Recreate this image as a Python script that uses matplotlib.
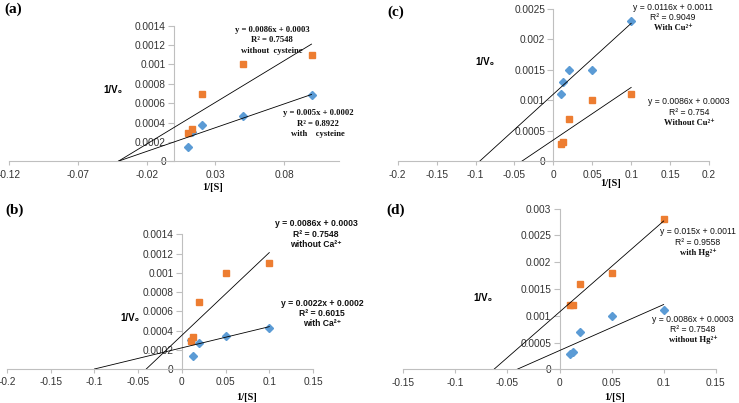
import matplotlib
matplotlib.use("Agg")
import matplotlib.pyplot as plt
from matplotlib.ticker import FuncFormatter
import numpy as np

W, H = 739, 403

BLUE = "#5B9BD5"
ORANGE = "#ED7D31"
AXIS_GRAY = "#BFBFBF"
SANS = ["Liberation Sans", "DejaVu Sans"]
SERIF = ["Liberation Serif", "DejaVu Serif"]

# substrate concentrations (1/[S]) shared by every panel
inv_s = [0.01, 0.013, 0.02, 0.05, 0.1]

# (a) cysteine
a_with = [0.00015, 0.0003, 0.00037, 0.00047, 0.00068]
a_without = [0.00029, 0.00033, 0.0007, 0.001, 0.0011]
# (b) Ca2+
b_with = [0.0003, 0.00014, 0.00027, 0.00034, 0.00043]
b_without = [0.00029, 0.00033, 0.0007, 0.001, 0.0011]
# (c) Cu2+
c_with = [0.0011, 0.0013, 0.0015, 0.0015, 0.0023]
c_without = [0.00028, 0.00032, 0.0007, 0.001, 0.0011]
# (d) Hg2+
d_with = [0.0012, 0.0012, 0.0016, 0.0018, 0.0028]
d_without = [0.00029, 0.00033, 0.0007, 0.001, 0.0011]

# trend lines (slope, intercept) as drawn in the picture
a_fit_with, a_fit_without = (0.0049, 0.0002), (0.0086, 0.00035)
b_fit_with, b_fit_without = (0.0022, 0.00022), (0.0086, 0.00035)
c_fit_with, c_fit_without = (0.0116, 0.0011), (0.0086, 0.00035)
d_fit_with, d_fit_without = (0.017, 0.00107), (0.0086, 0.00035)

a_xticks = [-0.12, -0.07, -0.02, 0.03, 0.08]
a_yticks = [0, 0.0002, 0.0004, 0.0006, 0.0008, 0.001, 0.0012, 0.0014]
b_xticks = [-0.2, -0.15, -0.1, -0.05, 0, 0.05, 0.1, 0.15]
b_yticks = a_yticks
c_xticks = [-0.2, -0.15, -0.1, -0.05, 0, 0.05, 0.1, 0.15, 0.2]
c_yticks = [0, 0.0005, 0.001, 0.0015, 0.002, 0.0025]
d_xticks = [-0.15, -0.1, -0.05, 0, 0.05, 0.1, 0.15]
d_yticks = [0, 0.0005, 0.001, 0.0015, 0.002, 0.0025, 0.003]


def fmt(v, _pos=None):
    return f"{round(v, 5):g}"


def make_axes(fig, left, right, top, bottom):
    return fig.add_axes([left / W, 1 - bottom / H, (right - left) / W, (bottom - top) / H])


def style(ax, xticks, yticks):
    ax.set_xlim(xticks[0], xticks[-1])
    ax.set_ylim(yticks[0], yticks[-1])
    ax.set_xticks(xticks)
    ax.set_yticks(yticks)
    ax.xaxis.set_major_formatter(FuncFormatter(fmt))
    ax.yaxis.set_major_formatter(FuncFormatter(fmt))
    ax.spines["top"].set_visible(False)
    ax.spines["right"].set_visible(False)
    ax.spines["left"].set_position(("data", 0))
    for s in ("left", "bottom"):
        ax.spines[s].set_color(AXIS_GRAY)
        ax.spines[s].set_linewidth(0.8)
    ax.tick_params(axis="both", colors=AXIS_GRAY, labelcolor="#333333",
                   labelsize=7.3, width=0.8)
    ax.tick_params(axis="y", length=4, pad=2)
    ax.tick_params(axis="x", length=3, pad=3)
    for lab in ax.get_xticklabels() + ax.get_yticklabels():
        lab.set_family(SANS)
    ax.patch.set_alpha(0)


def draw(ax, blue, orange, blue_fit, orange_fit):
    ax.plot(inv_s, blue, linestyle="none", marker="D", markersize=3.6,
            color=BLUE, zorder=2, clip_on=False)
    ax.plot(inv_s, orange, linestyle="none", marker="s", markersize=4.6,
            color=ORANGE, zorder=2, clip_on=False)
    for m, b in (blue_fit, orange_fit):
        xs = np.array([-b / m, inv_s[-1]])
        ax.plot(xs, m * xs + b, color="black", linewidth=0.6, zorder=3)


def note(fig, x, y, lines):
    # lines: list of (text, family, weight)
    for i, (txt, fam, wt) in enumerate(lines):
        fig.text(x / W, 1 - (y + i * 10.5) / H, txt, family=fam, weight=wt,
                 fontsize=6.2, ha="center", va="center", color="#111111")


fig = plt.figure(figsize=(W / 100, H / 100), dpi=100)

ax_a = make_axes(fig, 9.3, 339, 25.7, 161.3)
style(ax_a, a_xticks, a_yticks)
ax_a.set_xlim(-0.12, 0.12)
draw(ax_a, a_with, a_without, a_fit_with, a_fit_without)

ax_c = make_axes(fig, 397.7, 709, 8.7, 161.3)
style(ax_c, c_xticks, c_yticks)
draw(ax_c, c_with, c_without, c_fit_with, c_fit_without)

ax_b = make_axes(fig, 7, 313, 234.3, 369)
style(ax_b, b_xticks, b_yticks)
draw(ax_b, b_with, b_without, b_fit_with, b_fit_without)

ax_d = make_axes(fig, 403.3, 715.7, 208.7, 369.3)
style(ax_d, d_xticks, d_yticks)
draw(ax_d, d_without, d_with, d_fit_without, d_fit_with)

# panel letters
for txt, x, y in [("(a)", 13, 9), ("(c)", 396, 12), ("(b)", 15, 210), ("(d)", 396, 210)]:
    fig.text(x / W, 1 - y / H, txt, family=SERIF, weight="bold", fontsize=11,
             ha="center", va="center")

# axis titles
for x, y in [(113, 90), (485, 62), (130, 318), (483, 298)]:
    fig.text(x / W, 1 - y / H, "1/V₀", family=SANS, weight="bold", fontsize=7,
             ha="center", va="center")
for x, y in [(213, 188), (611, 184), (247, 398), (615, 397)]:
    fig.text(x / W, 1 - y / H, "1/[S]", family=SERIF, weight="bold", fontsize=7.5,
             ha="center", va="center")

# trend-line equations
note(fig, 272, 30, [("y = 0.0086x + 0.0003", SERIF, "bold"),
                    ("R² = 0.7548", SERIF, "bold"),
                    ("without  cysteine", SERIF, "bold")])
note(fig, 318, 113, [("y = 0.005x + 0.0002", SERIF, "bold"),
                     ("R² = 0.8922", SERIF, "bold"),
                     ("with    cysteine", SERIF, "bold")])
note(fig, 673, 7, [("y = 0.0116x + 0.0011", SANS, "normal"),
                   ("R² = 0.9049", SANS, "normal"),
                   ("With Cu²⁺", SERIF, "bold")])
note(fig, 689, 102, [("y = 0.0086x + 0.0003", SANS, "normal"),
                     ("R² = 0.754", SANS, "normal"),
                     ("Without Cu²⁺", SERIF, "bold")])
note(fig, 316, 224, [("y = 0.0086x + 0.0003", SANS, "bold"),
                     ("R² = 0.7548", SANS, "bold"),
                     ("without Ca²⁺", SANS, "bold")])
note(fig, 322, 303, [("y = 0.0022x + 0.0002", SANS, "bold"),
                     ("R² = 0.6015", SANS, "bold"),
                     ("with Ca²⁺", SANS, "bold")])
note(fig, 698, 232, [("y = 0.015x + 0.0011", SANS, "normal"),
                     ("R² = 0.9558", SANS, "normal"),
                     ("with Hg²⁺", SERIF, "bold")])
note(fig, 693, 319, [("y = 0.0086x + 0.0003", SANS, "normal"),
                     ("R² = 0.7548", SANS, "normal"),
                     ("without Hg²⁺", SERIF, "bold")])

fig.savefig("out.png", dpi=100)
